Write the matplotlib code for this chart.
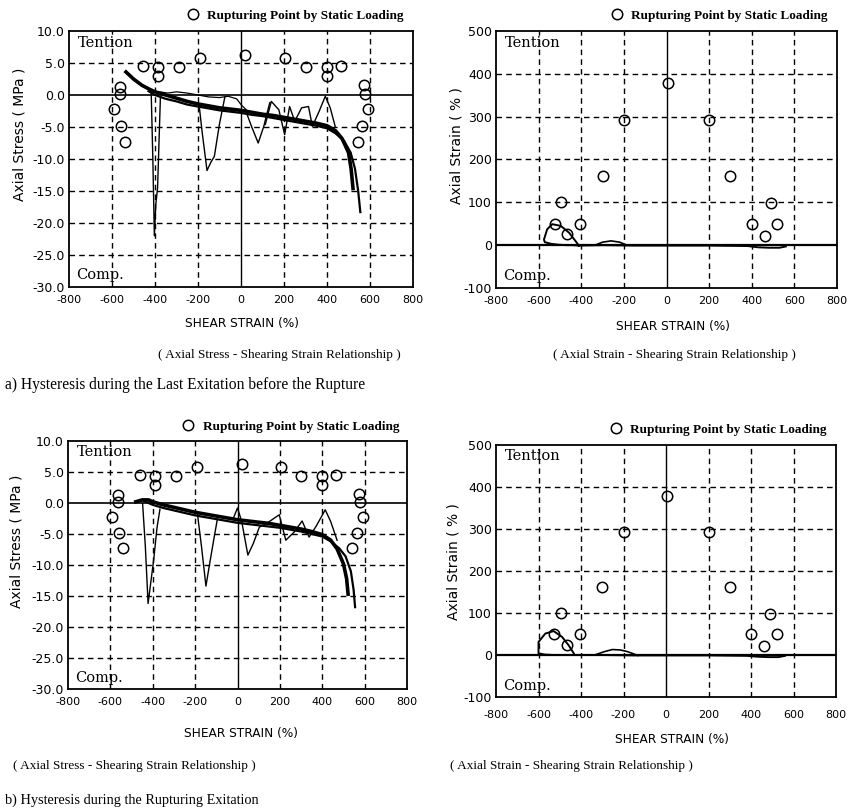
import matplotlib
matplotlib.use('Agg')
import matplotlib.pyplot as plt

W, H = 848, 809

# rupturing points by static loading (shear strain %, axial stress MPa / axial strain %)
stress_pts_x = [-565, -565, -590, -557, -540, -458, -388, -388, -288, -193, 20,
                205, 302, 400, 400, 467, 572, 577, 592, 563, 542]
stress_pts_y = [1.3, 0.2, -2.2, -4.8, -7.3, 4.5, 4.4, 2.9, 4.4, 5.8, 6.3,
                5.8, 4.4, 4.4, 2.9, 4.5, 1.5, 0.2, -2.2, -4.8, -7.3]
strain_pts_x = [-525, -495, -465, -405, -300, -200, 5, 200, 300, 400, 460, 490, 520]
strain_pts_y = [50, 100, 25, 50, 162, 292, 378, 292, 162, 50, 22, 98, 50]

# a) last excitation before rupture - axial stress loops
a_band_x = [-535, -500, -460, -420, -400, -350, -300, -250, -200, -150, -100, -50, 0,
            50, 100, 150, 200, 250, 300, 350, 400, 440, 470, 500, 512, 521]
a_band_y = [3.6, 2.5, 1.5, 0.8, 0.5, 0.0, -0.5, -1.0, -1.4, -1.7, -2.0, -2.2, -2.4,
            -2.7, -3.0, -3.2, -3.5, -3.8, -4.1, -4.4, -4.8, -5.6, -6.8, -9.0, -11.5, -14.6]
a_band2_x = [-430, -400, -350, -300, -250, -200, -150, -100, -50, 0, 50, 100, 150,
             200, 250, 300, 350, 400, 440, 480, 510, 530, 545, 555]
a_band2_y = [0.6, 0.0, -0.6, -1.0, -1.5, -1.8, -2.1, -2.4, -2.6, -2.8, -3.1, -3.3, -3.6,
             -3.9, -4.2, -4.5, -4.8, -5.2, -6.0, -7.2, -9.0, -11.5, -15.0, -18.3]
a_upper_x = [-420, -380, -340, -300, -250, -200, -150, -100, -60, -20, 0, 30]
a_upper_y = [0.6, 0.5, 0.3, 0.5, 0.3, 0.0, -0.3, -0.4, -0.2, -0.6, -1.5, -2.5]
a_spike1_x = [-418, -410, -403, -396, -388, -375]
a_spike1_y = [0.8, -10.0, -22.0, -17.0, -14.5, -0.5]
a_spike2_x = [-195, -180, -158, -140, -124, -100, -75]
a_spike2_y = [-1.5, -6.0, -11.8, -10.5, -9.6, -4.5, -0.3]
a_spike3_x = [20, 50, 80, 95, 106, 120, 134]
a_spike3_y = [-2.3, -5.0, -7.5, -6.0, -4.9, -3.0, -1.2]
a_wiggle_x = [113, 141, 176, 203, 226, 250, 282, 314, 332, 364, 392, 415, 438]
a_wiggle_y = [-4.6, -1.0, -2.3, -6.2, -1.8, -4.1, -2.0, -1.8, -4.9, -2.5, -0.2, -2.0, -4.9]

# b) rupturing excitation - axial stress loops
b_band_x = [-480, -450, -420, -400, -350, -300, -250, -200, -150, -100, -50, 0, 50,
            100, 150, 200, 250, 300, 350, 400, 440, 470, 500, 515, 522]
b_band_y = [0.2, 0.5, 0.5, 0.2, -0.3, -0.7, -1.1, -1.5, -1.8, -2.1, -2.4, -2.7, -2.9,
            -3.1, -3.3, -3.6, -3.9, -4.2, -4.6, -5.1, -6.0, -7.4, -9.8, -12.2, -14.7]
b_band2_x = [-440, -400, -350, -300, -250, -200, -150, -100, -50, 0, 50, 100, 150,
             200, 250, 300, 350, 400, 440, 480, 510, 535, 548, 555]
b_band2_y = [0.3, -0.3, -0.8, -1.2, -1.6, -2.0, -2.3, -2.6, -2.9, -3.2, -3.4, -3.6, -3.8,
             -4.0, -4.3, -4.6, -5.0, -5.4, -6.2, -7.3, -8.6, -11.0, -14.0, -16.8]
b_spike1_x = [-448, -435, -422, -410, -395, -380, -366]
b_spike1_y = [0.0, -7.0, -16.2, -13.0, -9.0, -4.0, -1.0]
b_spike2_x = [-190, -170, -149, -130, -110, -95]
b_spike2_y = [-1.5, -7.0, -13.4, -9.5, -5.5, -2.6]
b_wiggle_x = [-20, 0, 20, 49, 75, 103, 150, 197, 228, 267, 305, 338, 372, 414, 440, 470]
b_wiggle_y = [-2.5, -0.8, -3.0, -8.4, -6.5, -3.9, -3.0, -1.9, -6.0, -4.7, -2.9, -5.5,
              -3.7, -1.1, -3.0, -6.0]

# axial strain loops
a_loop_x = [-411, -426, -457, -496, -536, -560, -575, -571, -540, -505, -470, -440, -411]
a_loop_y = [-1, 9, 29, 45, 49, 37, 13, 7, 3, 1, 0, 0, -1]
a_hump_x = [-330, -300, -260, -220, -190]
a_hump_y = [1, 7, 10, 7, 1]
a_base_x = [-411, -300, -150, 0, 200, 380, 430, 480, 530, 560]
a_base_y = [-1, 0, -1, -1, -1, -2, -5, -6, -6, -3]
b_loop_x = [-434, -458, -489, -529, -568, -600, -600, -570, -530, -480, -434]
b_loop_y = [4, 23, 43, 57, 51, 31, 4, 1, 0, 0, 0]
b_hump_x = [-330, -290, -252, -215, -181, -133]
b_hump_y = [1, 8, 13, 12, 8, -1]
b_base_x = [-434, -300, -150, 0, 200, 380, 430, 480, 530, 560]
b_base_y = [0, 0, -1, -1, -1, -2, -4, -5, -5, -2]

x_ticks = [-800, -600, -400, -200, 0, 200, 400, 600, 800]
stress_ticks = [10, 5, 0, -5, -10, -15, -20, -25, -30]
strain_ticks = [500, 400, 300, 200, 100, 0, -100]

SERIF = 'Liberation Serif'
SANS = 'DejaVu Sans'

fig = plt.figure(figsize=(W / 100, H / 100), dpi=100)


def px_axes(l, t, r, b):
    return fig.add_axes([l / W, 1 - b / H, (r - l) / W, (b - t) / H])


def ftext(x, y, s, **kw):
    fig.text(x / W, 1 - y / H, s, **kw)


def setup(ax, yticks, ylim, ylabels, xpad=6):
    ax.set_xlim(-800, 800)
    ax.set_ylim(*ylim)
    ax.set_xticks(x_ticks)
    ax.set_xticklabels([str(t) for t in x_ticks], fontsize=8, family=SANS)
    ax.set_yticks(yticks)
    ax.set_yticklabels(ylabels, fontsize=9, family=SANS)
    ax.tick_params(length=0)
    ax.tick_params(axis='x', pad=xpad)
    ax.tick_params(axis='y', pad=3)
    for s in ax.spines.values():
        s.set_linewidth(1.3)
    for t in x_ticks[1:-1]:
        if t == 0:
            ax.axvline(0, color='k', lw=1.0)
        else:
            ax.axvline(t, color='k', lw=1.0, ls=(0, (4, 3)))
    for t in yticks[1:-1]:
        if t == 0:
            ax.axhline(0, color='k', lw=1.2)
        else:
            ax.axhline(t, color='k', lw=1.0, ls=(0, (4, 3)))
    ax.text(0.027, 0.955, 'Tention', transform=ax.transAxes, fontsize=10.5,
            family='DejaVu Serif', va='center', ha='left')
    ax.text(0.022, 0.045, 'Comp.', transform=ax.transAxes, fontsize=10.5,
            family='DejaVu Serif', va='center', ha='left')


def legend(ax, pad):
    ax.legend(loc='lower right', bbox_to_anchor=(1.0, 1.0), frameon=False,
              borderaxespad=pad, borderpad=0.1, handletextpad=0.6, handlelength=1.0,
              prop={'family': SERIF, 'size': 9.5, 'weight': 'bold'})


stress_lbl = ['10.0', '5.0', '0.0', '-5.0', '-10.0', '-15.0', '-20.0', '-25.0', '-30.0']
strain_lbl = [str(t) for t in strain_ticks]
mk = dict(ls='none', marker='o', ms=7.5, mfc='none', mec='k', mew=1.1,
          label='Rupturing Point by Static Loading')

# ---- a) stress
ax1 = px_axes(69, 31, 413, 287)
setup(ax1, stress_ticks, (-30, 10), stress_lbl)
ax1.plot(a_band_x, a_band_y, color='k', lw=2.6)
ax1.plot(a_band2_x, a_band2_y, color='k', lw=1.6)
ax1.plot(a_upper_x, a_upper_y, color='k', lw=0.9)
for xs, ys in [(a_spike1_x, a_spike1_y), (a_spike2_x, a_spike2_y),
               (a_spike3_x, a_spike3_y), (a_wiggle_x, a_wiggle_y)]:
    ax1.plot(xs, ys, color='k', lw=1.0)
ax1.plot(stress_pts_x, stress_pts_y, **mk)
legend(ax1, 0.6)

# ---- a) strain
ax2 = px_axes(496, 31, 837, 288)
setup(ax2, strain_ticks, (-100, 500), strain_lbl)
ax2.axhline(0, color='k', lw=1.6)
ax2.plot(a_loop_x, a_loop_y, color='k', lw=1.4)
ax2.plot(a_hump_x, a_hump_y, color='k', lw=1.2)
ax2.plot(a_base_x, a_base_y, color='k', lw=1.4)
ax2.plot(strain_pts_x, strain_pts_y, **mk)
legend(ax2, 0.6)

# ---- b) stress
ax3 = px_axes(68, 441, 407, 689)
setup(ax3, stress_ticks, (-30, 10), stress_lbl)
ax3.plot(b_band_x, b_band_y, color='k', lw=2.6)
ax3.plot(b_band2_x, b_band2_y, color='k', lw=1.6)
for xs, ys in [(b_spike1_x, b_spike1_y), (b_spike2_x, b_spike2_y),
               (b_wiggle_x, b_wiggle_y)]:
    ax3.plot(xs, ys, color='k', lw=1.0)
ax3.plot(stress_pts_x, stress_pts_y, **mk)
legend(ax3, 0.5)

# ---- b) strain
ax4 = px_axes(496, 445, 836, 697)
setup(ax4, strain_ticks, (-100, 500), strain_lbl, xpad=9)
ax4.axhline(0, color='k', lw=1.6)
ax4.plot(b_loop_x, b_loop_y, color='k', lw=1.4)
ax4.plot(b_hump_x, b_hump_y, color='k', lw=1.2)
ax4.plot(b_base_x, b_base_y, color='k', lw=1.4)
ax4.plot(strain_pts_x, strain_pts_y, **mk)
legend(ax4, 0.6)

# axis titles and captions
ftext(20, 134, 'Axial Stress ( MPa )', rotation=90, ha='center', va='center',
      fontsize=10, family=SANS)
ftext(456, 146, 'Axial Strain ( % )', rotation=90, ha='center', va='center',
      fontsize=10, family=SANS)
ftext(17, 541, 'Axial Stress ( MPa )', rotation=90, ha='center', va='center',
      fontsize=10, family=SANS)
ftext(454, 562, 'Axial Strain ( % )', rotation=90, ha='center', va='center',
      fontsize=10, family=SANS)

ftext(242, 324, 'SHEAR STRAIN (%)', ha='center', va='center', fontsize=8.7, family=SANS)
ftext(673, 327, 'SHEAR STRAIN (%)', ha='center', va='center', fontsize=8.7, family=SANS)
ftext(241, 733, 'SHEAR STRAIN (%)', ha='center', va='center', fontsize=8.7, family=SANS)
ftext(672, 740, 'SHEAR STRAIN (%)', ha='center', va='center', fontsize=8.7, family=SANS)

ftext(279, 355, '( Axial Stress - Shearing Strain Relationship )', ha='center',
      va='center', fontsize=9.5, family=SERIF)
ftext(674, 355, '( Axial Strain - Shearing Strain Relationship )', ha='center',
      va='center', fontsize=9.5, family=SERIF)
ftext(134, 766, '( Axial Stress - Shearing Strain Relationship )', ha='center',
      va='center', fontsize=9.5, family=SERIF)
ftext(571, 766, '( Axial Strain - Shearing Strain Relationship )', ha='center',
      va='center', fontsize=9.5, family=SERIF)

ftext(5, 385, 'a) Hysteresis during the Last Exitation before the Rupture', ha='left',
      va='center', fontsize=11.2, family=SERIF)
ftext(5, 800, 'b) Hysteresis during the Rupturing Exitation', ha='left',
      va='center', fontsize=10.3, family=SERIF)

fig.savefig('out.png', dpi=100)
